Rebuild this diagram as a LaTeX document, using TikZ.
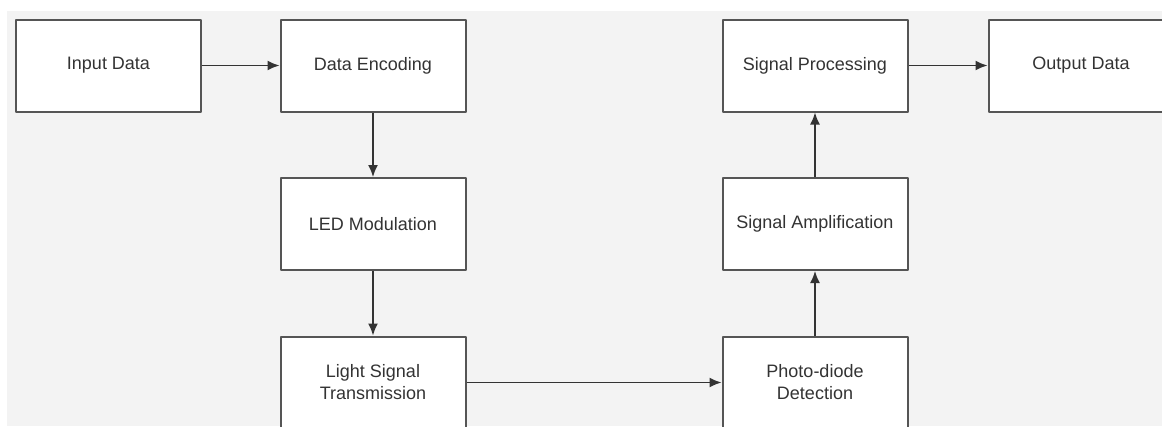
\documentclass[tikz,border=0pt]{standalone}
\usepackage{fontspec}
\setmainfont{Liberation Sans}
\usetikzlibrary{positioning,arrows.meta}
\definecolor{bggray}{HTML}{F3F3F3}
\definecolor{boxline}{HTML}{555555}
\definecolor{txtgray}{HTML}{333333}
\begin{document}
\begin{tikzpicture}[x=1pt,y=-1pt,line join=round,>={Latex[length=12pt,width=10pt]},
		block/.style={draw=boxline,line width=2pt,fill=white,minimum width=185pt,minimum height=92pt,inner sep=0pt,align=center,text=txtgray,font=\fontsize{18}{22}\selectfont},
		flow/.style={->,line width=1.6pt,draw=black!80}]
		\useasboundingbox (0,0) rectangle (1162,426);
		\fill[bggray] (7,11) rectangle (1162,426);
		% transmitter side
		\node[block] (input) at (108.5,65.5) {Input Data};
		\node[block,right=77.5pt of input] (encode) {Data Encoding};
		\node[block,below=64.5pt of encode] (led) {LED Modulation};
		\node[block,below=64.5pt of led] (light) {Light Signal\\Transmission};
		% receiver side
		\node[block,right=255pt of light] (photo) {Photo-diode\\Detection};
		\node[block,above=64.5pt of photo] (amp) {Signal Amplification};
		\node[block,above=64.5pt of amp] (proc) {Signal Processing};
		\node[block,right=79pt of proc] (output) {Output Data};
		% connectors
		\draw[flow] (input) -- (encode);
		\draw[flow] (encode) -- (led);
		\draw[flow] (led) -- (light);
		\draw[flow] (light) -- (photo);
		\draw[flow] (photo) -- (amp);
		\draw[flow] (amp) -- (proc);
		\draw[flow] (proc) -- (output);
\end{tikzpicture}
\end{document}
